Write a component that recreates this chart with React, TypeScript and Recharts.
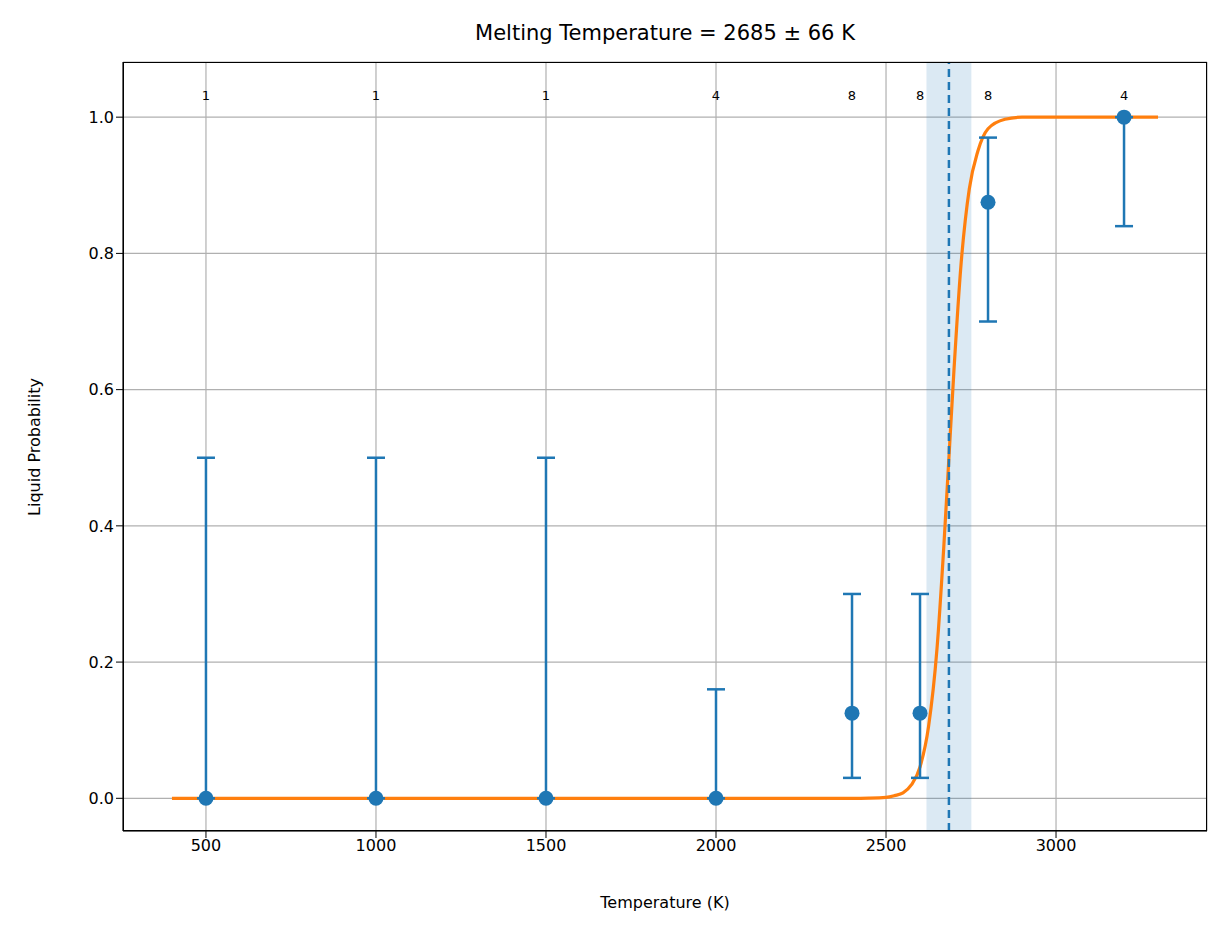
import { ComposedChart, Line, Scatter, ErrorBar, XAxis, YAxis, CartesianGrid, ReferenceLine, ReferenceArea } from 'recharts';

const temps = [500, 1000, 1500, 2000, 2400, 2600, 2800, 3200];
const probs = [0, 0, 0, 0, 0.125, 0.125, 0.875, 1.0];
const errLow = [0, 0, 0, 0, 0.095, 0.095, 0.175, 0.16];
const errHigh = [0.5, 0.5, 0.5, 0.16, 0.175, 0.175, 0.095, 0];
const counts = [1, 1, 1, 4, 8, 8, 8, 4];

const fitT = [400, 2400, 2450, 2500, 2525, 2550, 2575, 2600, 2625, 2650, 2670, 2685, 2700, 2720, 2745, 2770, 2800, 2850, 2900, 3000, 3300];
const fitP = [0, 0, 0.0003, 0.0014, 0.004, 0.008, 0.02, 0.046, 0.105, 0.22, 0.37, 0.5, 0.63, 0.78, 0.895, 0.95, 0.983, 0.997, 1, 1, 1];

const xTicks = [500, 1000, 1500, 2000, 2500, 3000];
const yTicks = [0, 0.2, 0.4, 0.6, 0.8, 1.0];

const meltT = 2685;
const meltErr = 66;

const points = temps.map((t, i) => ({ t, p: probs[i], err: [errLow[i], errHigh[i]] }));
const fit = fitT.map((t, i) => ({ t, p: fitP[i] }));
const countData = temps.map((t, i) => ({ t, p: 1.03, n: counts[i] }));

const BLUE = '#1f77b4';
const font = 'DejaVu Sans, sans-serif';

export default function App() {
  return (
    <div style={{ position: 'absolute', left: 0, top: 0, width: 1227, height: 939, background: '#fff', fontFamily: font }}>
      <div style={{ position: 'absolute', left: 123, width: 1084, top: 21, textAlign: 'center', fontSize: 21 }}>
        Melting Temperature = {meltT} ± {meltErr} K
      </div>
      <div style={{ position: 'absolute', left: 123, width: 1084, top: 893, textAlign: 'center', fontSize: 16 }}>
        Temperature (K)
      </div>
      <div style={{ position: 'absolute', left: 34, top: 447, fontSize: 16, whiteSpace: 'nowrap', transform: 'translate(-50%, -50%) rotate(-90deg)' }}>
        Liquid Probability
      </div>
      <ComposedChart width={1227} height={939} margin={{ top: 62, right: 20, bottom: 48, left: 63 }}>
        <CartesianGrid stroke="#b0b0b0" strokeWidth={1.2} />
        <XAxis type="number" dataKey="t" domain={[256, 3444]} ticks={xTicks} allowDataOverflow height={60}
          tick={{ fontSize: 16, fill: '#000', fontFamily: font }} tickLine={{ stroke: '#000' }} axisLine={{ stroke: '#000' }}
          tickSize={7} />
        <YAxis type="number" dataKey="p" width={60} domain={[-0.048, 1.081]} ticks={yTicks} allowDataOverflow
          tickFormatter={(v: number) => v.toFixed(1)}
          tick={{ fontSize: 16, fill: '#000', fontFamily: font }} tickLine={{ stroke: '#000' }} axisLine={{ stroke: '#000' }}
          tickSize={7} />
        <ReferenceArea x1={meltT - meltErr} x2={meltT + meltErr} fill={BLUE} fillOpacity={0.16} stroke="none" />
        <Line data={fit} dataKey="p" type="monotone" stroke="#ff7f0e" strokeWidth={3.2} dot={false} isAnimationActive={false} />
        <ReferenceLine x={meltT} stroke={BLUE} strokeWidth={2.5} strokeDasharray="8 5" />
        <Scatter data={points} dataKey="p" fill={BLUE} isAnimationActive={false}
          shape={(props: any) => <circle cx={props.cx} cy={props.cy} r={7.5} fill={BLUE} />}>
          <ErrorBar dataKey="err" direction="y" width={9} stroke={BLUE} strokeWidth={2.5} />
        </Scatter>
        <Scatter data={countData} dataKey="p" isAnimationActive={false}
          shape={(props: any) => (
            <text x={props.cx} y={props.cy} textAnchor="middle" dominantBaseline="middle" fontSize={13} fontFamily={font} fill="#000">
              {props.payload.n}
            </text>
          )} />
      </ComposedChart>
      <div style={{ position: 'absolute', left: 123, top: 62, width: 1084, height: 769, border: '1.3px solid #000', boxSizing: 'border-box', pointerEvents: 'none' }} />
    </div>
  );
}
